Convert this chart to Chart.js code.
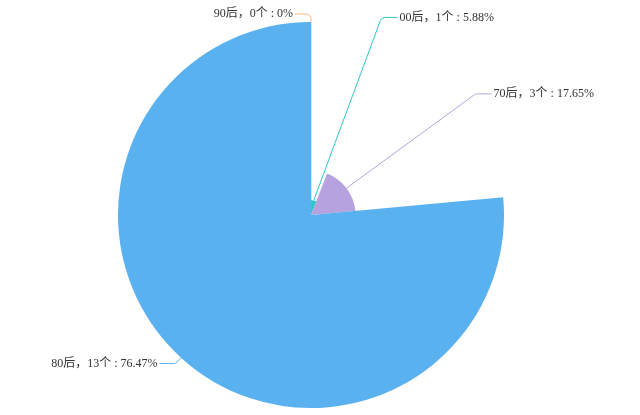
<!DOCTYPE html>
<html>
<head>
<meta charset="utf-8">
<script src="https://cdn.jsdelivr.net/npm/chart.js@4.4.1/dist/chart.umd.min.js"></script>
<style>
    html, body { margin: 0; padding: 0; background: #fff; }
    .chart-container { width: 640px; height: 415px; position: relative; }
</style>
</head>
<body>
<div class="chart-container">
    <canvas id="rose"></canvas>
</div>
<script>
const categories = ['00后', '70后', '80后', '90后'];
const counts = [1, 3, 13, 0];
const sliceColors = ['#2ec7c9', '#b6a2de', '#5ab1ef', '#ffb980'];

const total = counts.reduce((a, b) => a + b, 0);
const maxCount = Math.max(...counts);

function labelText(i) {
    const pct = parseFloat((counts[i] / total * 100).toFixed(2));
    return categories[i] + '，' + counts[i] + '个 : ' + pct + '%';
}

// rose type: every slice gets a radius proportional to its value
const roseRadius = {
    id: 'roseRadius',
    afterDatasetsUpdate(chart) {
        const meta = chart.getDatasetMeta(0);
        const R = meta.controller.outerRadius;
        meta.data.forEach((arc, i) => {
            arc.outerRadius = R * counts[i] / maxCount;
        });
    }
};

// label lines + text, laid out roughly the way echarts does it
const roseLabels = {
    id: 'roseLabels',
    layout(chart) {
        const meta = chart.getDatasetMeta(0);
        const R = meta.controller.outerRadius;
        const lineLen = 8, lineLen2 = 16;
        const items = meta.data.map((arc, i) => {
            const mid = (arc.startAngle + arc.endAngle) / 2;
            const dx = Math.cos(mid), dy = Math.sin(mid);
            const cx = arc.x, cy = arc.y;
            const rA = R + lineLen;
            // straight up counts as the left side
            const dir = dx < 1e-6 ? -1 : 1;
            return {
                i: i, cx: cx, cy: cy, dir: dir, rA: rA,
                start: { x: cx + arc.outerRadius * dx, y: cy + arc.outerRadius * dy },
                elbow: { x: cx + rA * dx, y: cy + rA * dy }
            };
        });
        // tight labels of the same quarter get spread on a taller ellipse
        [-1, 1].forEach(dir => {
            ['top', 'bottom'].forEach(semi => {
                const group = items.filter(it => it.dir === dir &&
                    (semi === 'top' ? it.elbow.y <= it.cy : it.elbow.y > it.cy));
                if (group.length < 2) return;
                group.forEach(it => {
                    const rB = it.rA + 10;
                    const dy = Math.abs(it.elbow.y - it.cy);
                    const k = Math.sqrt(Math.max(0, 1 - dy * dy / (rB * rB)));
                    it.elbow.x = it.cx + dir * k * it.rA;
                });
            });
        });
        items.forEach(it => {
            it.end = { x: it.elbow.x + it.dir * lineLen2, y: it.elbow.y };
        });
        return items;
    },
    beforeDatasetsDraw(chart) {
        const ctx = chart.ctx;
        chart.$roseItems = this.layout(chart);
        ctx.save();
        ctx.lineWidth = 1;
        chart.$roseItems.forEach(it => {
            ctx.strokeStyle = sliceColors[it.i];
            ctx.beginPath();
            ctx.moveTo(it.start.x, it.start.y);
            ctx.arcTo(it.elbow.x, it.elbow.y, it.end.x, it.end.y, 5);
            ctx.lineTo(it.end.x, it.end.y);
            ctx.stroke();
        });
        ctx.restore();
    },
    afterDatasetsDraw(chart) {
        const ctx = chart.ctx;
        ctx.save();
        ctx.font = '12px "Liberation Serif", "Noto Sans CJK SC", serif';
        ctx.fillStyle = '#333';
        ctx.textBaseline = 'middle';
        (chart.$roseItems || []).forEach(it => {
            ctx.textAlign = it.dir > 0 ? 'left' : 'right';
            ctx.fillText(labelText(it.i), it.end.x + it.dir * 2, it.end.y);
        });
        ctx.restore();
    }
};

new Chart(document.getElementById('rose'), {
    type: 'pie',
    data: {
        labels: categories,
        datasets: [{
            data: counts,
            backgroundColor: sliceColors,
            borderWidth: 0,
            hoverOffset: 0,
            offset: 0
        }]
    },
    options: {
        responsive: true,
        maintainAspectRatio: false,
        animation: false,
        events: [],
        layout: {
            padding: { left: 118, right: 136, top: 22, bottom: 7 }
        },
        plugins: {
            legend: { display: false },
            title: { display: false },
            tooltip: { enabled: false }
        }
    },
    plugins: [roseRadius, roseLabels]
});
</script>
</body>
</html>
